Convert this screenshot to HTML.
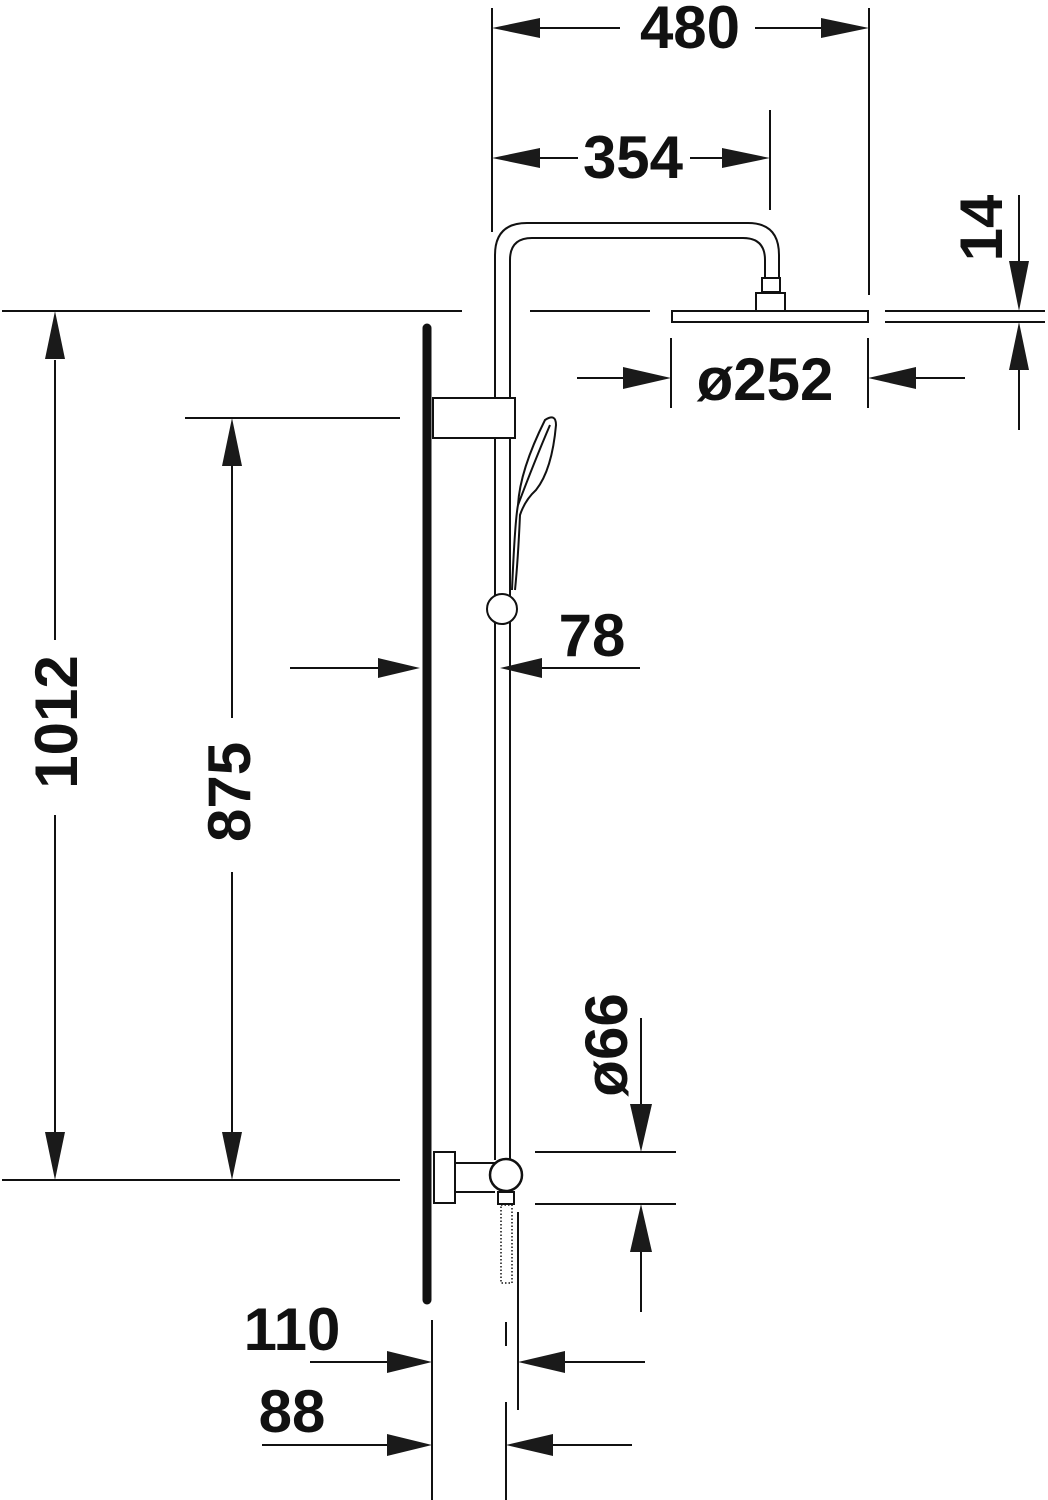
<!DOCTYPE html>
<html><head><meta charset="utf-8"><style>
html,body{margin:0;padding:0;background:#fff}
svg{display:block}
text{font-family:"Liberation Sans Narrow","Liberation Sans",sans-serif;font-weight:bold;fill:#111}
</style></head><body>
<svg width="1048" height="1500" viewBox="0 0 1048 1500" xmlns="http://www.w3.org/2000/svg">
<defs>
<marker id="a" viewBox="0 0 10 10" refX="10" refY="5" markerWidth="16" markerHeight="8" markerUnits="userSpaceOnUse" orient="auto"><path d="M0,0 L10,5 L0,10 z" fill="#1a1a1a"/></marker>
</defs>
<g stroke="#111" stroke-width="2" fill="none">
<!-- 480 -->
<line x1="492" y1="8" x2="492" y2="232"/>
<line x1="869" y1="8" x2="869" y2="295"/>
<path d="M492,28 l48,-10 v20 z M869,28 l-48,-10 v20 z" fill="#1a1a1a" stroke="none"/>
<line x1="540" y1="28" x2="620" y2="28"/><line x1="755" y1="28" x2="821" y2="28"/>
<!-- 354 -->
<line x1="770" y1="110" x2="770" y2="210"/>
<path d="M492,158 l48,-10 v20 z M770,158 l-48,-10 v20 z" fill="#1a1a1a" stroke="none"/>
<line x1="540" y1="158" x2="578" y2="158"/><line x1="690" y1="158" x2="722" y2="158"/>
<!-- 14 -->
<line x1="1019" y1="195" x2="1019" y2="262"/>
<line x1="1019" y1="370" x2="1019" y2="430"/>
<path d="M1019,311 l-10,-50 h20 z M1019,322 l-10,48 h20 z" fill="#1a1a1a" stroke="none"/>
<line x1="885" y1="311" x2="1045" y2="311"/><line x1="885" y1="322" x2="1045" y2="322"/>
<!-- top ext line -->
<line x1="2" y1="311" x2="462" y2="311"/><line x1="530" y1="311" x2="650" y2="311"/>
<!-- head -->
<rect x="672" y="311" width="196" height="11"/>
<rect x="756" y="293" width="29" height="18"/>
<rect x="762" y="278" width="18" height="14"/>
<!-- 252 -->
<line x1="671" y1="338" x2="671" y2="408"/><line x1="868" y1="338" x2="868" y2="408"/>
<line x1="577" y1="378" x2="625" y2="378"/><line x1="915" y1="378" x2="965" y2="378"/>
<path d="M671,378 l-48,-11 v22 z M868,378 l48,-11 v22 z" fill="#1a1a1a" stroke="none"/>
<!-- pipe -->
<path d="M495,1160 V255 Q495,223 527,223 H748 Q779,223 779,255 V278"/>
<path d="M510,1160 V260 Q510,238 532,238 H743 Q765,238 765,260 V278"/>
<!-- wall bar -->
<line x1="427" y1="328" x2="427" y2="1300" stroke-width="9" stroke-linecap="round"/>
<!-- bracket -->
<rect x="433" y="398" width="82" height="40" fill="#fff"/>
<!-- hand shower -->
<path d="M512,590 Q515,520 518,505 Q520,470 545,420 Q556,413 556,425 Q552,470 536,490 Q525,500 520,515 Q518,560 515,590" fill="#fff"/>
<path d="M518,505 Q535,460 550,425"/>
<circle cx="502" cy="609" r="15" fill="#fff"/>
<!-- 78 -->
<line x1="290" y1="668" x2="380" y2="668"/><line x1="540" y1="668" x2="640" y2="668"/>
<path d="M420,668 l-42,-10 v20 z M500,668 l42,-10 v20 z" fill="#1a1a1a" stroke="none"/>
<!-- 1012 -->
<line x1="55" y1="360" x2="55" y2="640"/><line x1="55" y1="815" x2="55" y2="1135"/>
<path d="M55,311 l-10,48 h20 z M55,1180 l-10,-48 h20 z" fill="#1a1a1a" stroke="none"/>
<line x1="2" y1="1180" x2="400" y2="1180"/>
<!-- 875 -->
<line x1="185" y1="418" x2="400" y2="418"/>
<line x1="232" y1="465" x2="232" y2="718"/><line x1="232" y1="872" x2="232" y2="1135"/>
<path d="M232,418 l-10,48 h20 z M232,1180 l-10,-48 h20 z" fill="#1a1a1a" stroke="none"/>
<!-- outlet -->
<rect x="434" y="1152" width="21" height="51" fill="#fff"/>
<line x1="455" y1="1163" x2="495" y2="1163"/><line x1="455" y1="1192" x2="495" y2="1192"/>
<circle cx="506" cy="1175" r="16" fill="#fff" stroke-width="2.5"/>
<rect x="498" y="1192" width="16" height="12" fill="#fff"/>
<rect x="501" y="1205" width="11" height="78" stroke-width="1.5" stroke-dasharray="1.5 2"/>
<!-- 66 -->
<line x1="535" y1="1152" x2="676" y2="1152"/><line x1="535" y1="1204" x2="676" y2="1204"/>
<line x1="641" y1="1018" x2="641" y2="1105"/><line x1="641" y1="1250" x2="641" y2="1312"/>
<path d="M641,1152 l-11,-48 h22 z M641,1204 l-11,48 h22 z" fill="#1a1a1a" stroke="none"/>
<!-- 110 / 88 -->
<line x1="432" y1="1320" x2="432" y2="1500"/>
<line x1="518" y1="1212" x2="518" y2="1410"/>
<line x1="506" y1="1322" x2="506" y2="1346"/><line x1="506" y1="1402" x2="506" y2="1500"/>
<line x1="310" y1="1362" x2="390" y2="1362"/><line x1="565" y1="1362" x2="645" y2="1362"/>
<path d="M432,1362 l-45,-11 v22 z M518,1362 l47,-11 v22 z" fill="#1a1a1a" stroke="none"/>
<line x1="262" y1="1445" x2="390" y2="1445"/><line x1="553" y1="1445" x2="632" y2="1445"/>
<path d="M432,1445 l-45,-11 v22 z M506,1445 l47,-11 v22 z" fill="#1a1a1a" stroke="none"/>
</g>
<text x="690" y="48" font-size="60" text-anchor="middle">480</text>
<text x="633" y="178" font-size="60" text-anchor="middle">354</text>
<text x="765" y="400" font-size="60" text-anchor="middle">ø252</text>
<text x="592" y="656" font-size="60" text-anchor="middle">78</text>
<text x="292" y="1350" font-size="60" text-anchor="middle">110</text>
<text x="292" y="1432" font-size="60" text-anchor="middle">88</text>
<text transform="translate(1002,228) rotate(-90)" font-size="60" text-anchor="middle">14</text>
<text transform="translate(77,722) rotate(-90)" font-size="60" text-anchor="middle">1012</text>
<text transform="translate(250,792) rotate(-90)" font-size="60" text-anchor="middle">875</text>
<text transform="translate(627,1045) rotate(-90)" font-size="60" text-anchor="middle">ø66</text>
</svg>
</body></html>
